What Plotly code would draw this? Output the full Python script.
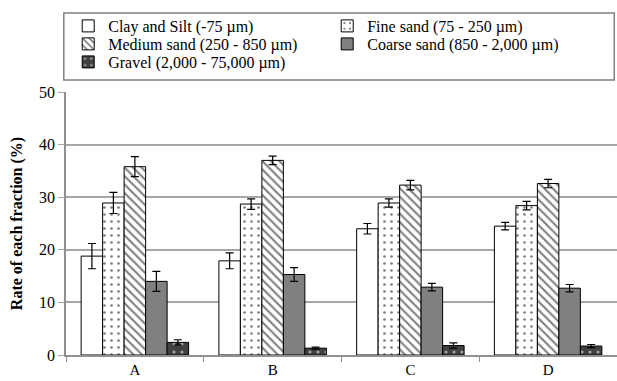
import plotly.graph_objects as go

categories = ["A", "B", "C", "D"]
series_names = [
    "Clay and Silt (-75 µm)",
    "Fine sand (75 - 250 µm)",
    "Medium sand (250 - 850 µm)",
    "Coarse sand (850 - 2,000 µm)",
    "Gravel (2,000 - 75,000 µm)",
]
clay = [18.8, 17.9, 24.0, 24.5]
clay_err = [2.4, 1.5, 1.0, 0.7]
fine = [28.9, 28.7, 28.9, 28.4]
fine_err = [2.0, 1.0, 0.8, 0.8]
medium = [35.8, 37.0, 32.3, 32.6]
medium_err = [1.9, 0.8, 0.9, 0.8]
coarse = [14.0, 15.3, 12.9, 12.7]
coarse_err = [1.9, 1.3, 0.7, 0.7]
gravel = [2.4, 1.3, 1.8, 1.7]
gravel_err = [0.5, 0.2, 0.5, 0.3]

values = [clay, fine, medium, coarse, gravel]
errors = [clay_err, fine_err, medium_err, coarse_err, gravel_err]
fills = ["white", "white", "white", "#808080", "#404040"]
patterns = [
    dict(shape=""),
    dict(shape=".", fgcolor="black", bgcolor="white", size=7, solidity=0.12),
    dict(shape="\\", fgcolor="black", bgcolor="white", size=6, solidity=0.35),
    dict(shape=""),
    dict(shape=".", fgcolor="white", bgcolor="#404040", size=8, solidity=0.12),
]
legend_rows = ["legend", "legend", "legend2", "legend2", "legend3"]

SERIF = "Liberation Serif, Times New Roman, serif"

fig = go.Figure()
for name, v, e, c, p, lg in zip(series_names, values, errors, fills, patterns, legend_rows):
    fig.add_trace(go.Bar(
        x=categories, y=v, name=name, legend=lg,
        marker=dict(color=c, line=dict(color="black", width=1), pattern=p),
        error_y=dict(type="data", array=e, color="black", thickness=1.2, width=4),
    ))

PLOT_TOP, PLOT_H = 92, 263


def row_legend(center_px):
    return dict(
        orientation="h", x=0.004, y=(PLOT_TOP + PLOT_H - (center_px - 16)) / PLOT_H,
        xanchor="left", yanchor="top",
        entrywidth=214, entrywidthmode="pixels",
        font=dict(family=SERIF, size=16, color="black"),
        bgcolor="rgba(0,0,0,0)", borderwidth=0, itemwidth=30,
    )


fig.update_layout(
    width=617, height=381,
    margin=dict(l=66, r=0, t=92, b=26),
    paper_bgcolor="white", plot_bgcolor="white",
    barmode="group", bargap=0.22, bargroupgap=0,
    font=dict(family=SERIF, size=16, color="black"),
    showlegend=True,
    legend=row_legend(25),
    legend2=row_legend(43),
    legend3=row_legend(61),
    shapes=[dict(type="rect", xref="paper", yref="paper",
                 x0=-0.004, x1=0.995, y0=(355 - 80) / 263, y1=(355 - 13) / 263,
                 line=dict(color="#808080", width=1.5), fillcolor="rgba(0,0,0,0)")],
)
fig.update_xaxes(
    showline=True, linecolor="#909090", linewidth=1.5,
    ticks="outside", tickson="boundaries", ticklen=5, tickcolor="#909090",
    tickfont=dict(family=SERIF, size=15),
)
fig.update_yaxes(
    range=[0, 50], dtick=10, showgrid=True, gridcolor="#a6a6a6", gridwidth=1.5,
    showline=True, linecolor="#909090", linewidth=1.5,
    ticks="outside", ticklen=6, tickcolor="#a6a6a6",
    tickfont=dict(family=SERIF, size=16), zeroline=False,
    title=dict(text="<b>Rate of each fraction (%)</b>", font=dict(family=SERIF, size=16), standoff=12),
)
fig.write_html("out.html")
